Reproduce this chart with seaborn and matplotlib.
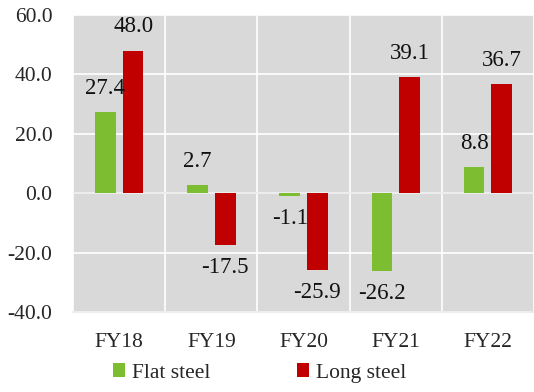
import numpy as np
import pandas as pd
import matplotlib
matplotlib.use("Agg")
import matplotlib.pyplot as plt
import seaborn as sns

# ── data ─────────────────────────────────────────────
years = ["FY18", "FY19", "FY20", "FY21", "FY22"]
flat_steel = [27.4, 2.7, -1.1, -26.2, 8.8]
long_steel = [48.0, -17.5, -25.9, 39.1, 36.7]
series_names = ["Flat steel", "Long steel"]
y_ticks = [-40, -20, 0, 20, 40, 60]

GREEN = "#7CBD31"
RED = "#C00000"
BG = "#D9D9D9"

df = pd.DataFrame({
    "year": years * 2,
    "value": flat_steel + long_steel,
    "type": [series_names[0]] * len(years) + [series_names[1]] * len(years),
})

sns.set_style("white")
plt.rcParams["font.family"] = ["Liberation Serif", "DejaVu Serif"]

fig = plt.figure(figsize=(5.34, 3.92), dpi=100)
ax = fig.add_axes([0.137, 0.204, 0.863, 0.758])
ax.set_facecolor(BG)

sns.barplot(data=df, x="year", y="value", hue="type",
            palette=[GREEN, RED], saturation=1, width=0.6, gap=0.25,
            linewidth=0, ax=ax, zorder=3)

# grid: horizontal at ticks, vertical between categories
ax.set_ylim(-40, 60)
ax.set_yticks(y_ticks)
ax.set_yticklabels([f"{v:.1f}" for v in y_ticks], fontsize=15.5)
ax.set_xlim(-0.5, len(years) - 0.5)
ax.set_xticks(np.arange(-0.5, len(years), 1.0), minor=True)
ax.grid(axis="y", which="major", color="white", linewidth=1.2, zorder=0)
ax.grid(axis="x", which="minor", color="white", linewidth=1.2, zorder=0)
ax.grid(axis="x", which="major", visible=False)
ax.set_axisbelow(True)
ax.axhline(0, color="#EBEBEB", linewidth=1.2, zorder=2)

ax.tick_params(axis="y", length=0, pad=15)
ax.tick_params(axis="x", which="both", length=0, pad=15, labelsize=15.5)
ax.set_xlabel("")
ax.set_ylabel("")
for s in ["top", "right", "left"]:
    ax.spines[s].set_visible(False)
ax.spines["bottom"].set_color("#EBEBEB")
ax.spines["bottom"].set_linewidth(1.2)

# value labels
for cont in ax.containers:
    for bar in cont:
        v = bar.get_height()
        x = bar.get_x() + bar.get_width() / 2
        dy = 17 if v >= 0 else -16
        ax.annotate(f"{v:.1f}", (x, v), xytext=(0, dy),
                    textcoords="offset points", ha="center", va="center",
                    fontsize=16.5, color="#111111", zorder=5)

# legend
handles, labels = ax.get_legend_handles_labels()
ax.legend(handles, labels, loc="center", bbox_to_anchor=(0.405, -0.205),
          ncol=2, frameon=False, fontsize=15.5, handlelength=0.55,
          handleheight=0.6, handletextpad=0.35, columnspacing=4.0,
          borderpad=0, borderaxespad=0)

plt.savefig("out.png", dpi=100, facecolor="white")
